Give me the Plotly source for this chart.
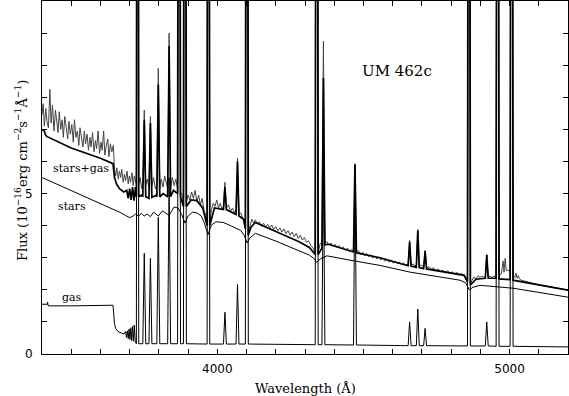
import plotly.graph_objects as go

# spectra of UM 462c: (wavelength [A], flux [1e-16 erg cm-2 s-1 A-1])
observed = [
    (3400, 7.45), (3404, 7.8), (3408, 7.1), (3413, 7.65), (3417, 7.25), (3422, 7.05), (3427, 8.25),
    (3431, 7.2), (3436, 7.75), (3441, 6.95), (3446, 7.6), (3450, 7.35), (3455, 6.9), (3459, 7.55),
    (3464, 7.0), (3469, 7.3), (3473, 6.75), (3478, 7.4), (3483, 7.1), (3488, 6.7), (3492, 7.25),
    (3497, 6.85), (3502, 7.15), (3507, 6.6), (3511, 7.3), (3516, 6.75), (3521, 6.95), (3526, 6.5),
    (3530, 7.05), (3535, 6.7), (3540, 6.45), (3545, 6.95), (3549, 6.55), (3554, 6.85), (3559, 6.35),
    (3564, 6.75), (3568, 6.45), (3573, 6.9), (3578, 6.3), (3583, 6.65), (3587, 6.4), (3592, 6.95),
    (3597, 6.25), (3602, 6.6), (3606, 6.35), (3611, 6.95), (3615, 6.2), (3620, 6.5), (3625, 6.7),
    (3629, 6.15), (3634, 6.55), (3639, 6.3), (3644, 6.5), (3648, 5.75), (3652, 5.55), (3656, 5.8),
    (3661, 5.45), (3665, 5.7), (3669, 5.5), (3673, 5.75), (3678, 5.35), (3682, 5.6), (3686, 5.4),
    (3691, 5.7), (3695, 5.3), (3699, 5.55), (3703, 5.35), (3708, 5.65), (3712, 5.25), (3716, 5.55),
    (3720, 5.35), (3723, 5.3), (3727, 40), (3731, 5.3), (3736, 5.5), (3741, 5.15), (3745, 5.35),
    (3750, 7.6), (3755, 5.25), (3760, 5.45), (3766, 5.2), (3771, 7.4), (3776, 5.25), (3782, 5.5),
    (3788, 5.15), (3793, 5.25), (3798, 8.9), (3803, 5.15), (3808, 5.45), (3814, 5.2), (3820, 5.55),
    (3826, 5.25), (3830, 5.15), (3835, 10.0), (3840, 5.15), (3846, 5.5), (3852, 5.25), (3858, 5.45),
    (3864, 5.15), (3869, 40), (3874, 5.05), (3880, 4.95), (3884, 4.75), (3889, 40), (3894, 4.75),
    (3900, 4.95), (3906, 4.8), (3912, 5.05), (3918, 4.85), (3924, 5.1), (3930, 4.75), (3936, 4.95),
    (3942, 4.65), (3948, 4.85), (3955, 4.45), (3962, 4.3), (3965, 4.15), (3969, 40), (3974, 4.1),
    (3980, 4.5), (3986, 4.7), (3992, 4.6), (3998, 4.8), (4004, 4.55), (4010, 4.7), (4016, 4.5),
    (4021, 4.6), (4026, 5.35), (4031, 4.55), (4038, 4.65), (4045, 4.45), (4052, 4.55), (4058, 4.4),
    (4064, 4.5), (4069, 6.1), (4074, 4.35), (4080, 4.4), (4088, 4.2), (4096, 3.95), (4101, 40),
    (4106, 3.75), (4112, 4.0), (4118, 4.2), (4124, 4.08), (4130, 4.18), (4137, 4.06), (4144, 4.12),
    (4151, 3.98), (4158, 4.08), (4165, 3.96), (4172, 4.04), (4179, 3.92), (4186, 4.02), (4193, 3.88),
    (4200, 3.97), (4207, 3.84), (4214, 3.93), (4221, 3.8), (4228, 3.9), (4235, 3.75), (4242, 3.84),
    (4249, 3.7), (4256, 3.8), (4263, 3.66), (4270, 3.76), (4277, 3.6), (4284, 3.7), (4291, 3.55),
    (4298, 3.63), (4305, 3.48), (4312, 3.53), (4320, 3.38), (4328, 3.3), (4335, 3.15), (4340, 40),
    (4345, 3.15), (4352, 3.45), (4358, 3.4), (4363, 9.75), (4368, 3.45), (4375, 3.5), (4382, 3.4),
    (4389, 3.46), (4396, 3.35), (4403, 3.42), (4410, 3.31), (4417, 3.38), (4424, 3.27), (4431, 3.34),
    (4438, 3.23), (4445, 3.3), (4452, 3.19), (4459, 3.26), (4466, 3.2), (4471, 5.93), (4476, 3.18),
    (4483, 3.22), (4490, 3.11), (4497, 3.17), (4504, 3.07), (4511, 3.13), (4518, 3.03), (4525, 3.09),
    (4532, 2.99), (4539, 3.05), (4546, 2.96), (4553, 3.02), (4560, 2.93), (4567, 2.99), (4574, 2.89),
    (4581, 2.95), (4588, 2.86), (4595, 2.92), (4602, 2.83), (4609, 2.89), (4616, 2.81), (4623, 2.87),
    (4630, 2.78), (4637, 2.84), (4644, 2.77), (4653, 2.8), (4658, 3.54), (4663, 2.75), (4670, 2.81),
    (4676, 2.74), (4681, 2.78), (4686, 3.88), (4691, 2.72), (4698, 2.78), (4706, 2.7), (4711, 3.23),
    (4716, 2.68), (4724, 2.72), (4732, 2.64), (4740, 2.69), (4748, 2.6), (4756, 2.65), (4764, 2.57),
    (4772, 2.61), (4780, 2.54), (4788, 2.59), (4796, 2.52), (4804, 2.56), (4812, 2.5), (4820, 2.54),
    (4828, 2.47), (4836, 2.51), (4845, 2.42), (4852, 2.3), (4856, 2.25), (4861, 40), (4866, 2.2),
    (4872, 2.3), (4878, 2.4), (4885, 2.33), (4892, 2.44), (4899, 2.38), (4906, 2.43), (4912, 2.39),
    (4917, 2.42), (4922, 3.1), (4927, 2.4), (4934, 2.42), (4940, 2.38), (4946, 2.44), (4950, 2.4),
    (4954, 2.45), (4959, 40), (4964, 2.45), (4972, 2.5), (4978, 2.9), (4981, 2.55), (4985, 2.98),
    (4989, 2.6), (4995, 2.62), (5002, 2.55), (5007, 40), (5012, 2.45), (5018, 2.38), (5022, 2.52),
    (5026, 2.36), (5030, 2.45), (5034, 2.34), (5040, 2.3), (5100, 2.15), (5200, 1.99),
]

stars_gas = [
    (3400, 7.0), (3408, 6.95), (3411, 6.85), (3416, 6.78), (3500, 6.42), (3600, 6.1), (3643, 5.93),
    (3648, 5.5), (3655, 5.3), (3665, 5.15), (3680, 5.05), (3690, 5.1), (3695, 4.85), (3700, 5.15),
    (3705, 4.8), (3710, 5.2), (3715, 4.78), (3720, 5.2), (3723, 4.9), (3727, 40), (3731, 4.9),
    (3740, 4.95), (3745, 4.9), (3750, 7.3), (3755, 4.9), (3766, 4.85), (3771, 7.2), (3776, 4.88),
    (3790, 4.95), (3793, 4.9), (3798, 8.4), (3803, 4.9), (3815, 5.0), (3830, 4.9), (3835, 9.6),
    (3840, 4.9), (3850, 5.1), (3864, 5.0), (3869, 40), (3874, 4.9), (3884, 4.6), (3889, 40),
    (3894, 4.6), (3910, 4.8), (3930, 4.78), (3950, 4.55), (3965, 4.0), (3969, 40), (3974, 4.0),
    (3990, 4.55), (4021, 4.5), (4026, 5.2), (4031, 4.5), (4050, 4.42), (4064, 4.35), (4069, 6.0),
    (4074, 4.3), (4090, 4.2), (4096, 3.9), (4101, 40), (4106, 3.7), (4115, 3.95), (4130, 4.1),
    (4200, 3.82), (4280, 3.5), (4315, 3.32), (4335, 3.1), (4340, 40), (4345, 3.1), (4358, 3.3),
    (4363, 8.6), (4368, 3.4), (4380, 3.42), (4466, 3.18), (4471, 5.9), (4476, 3.15), (4557, 3.0),
    (4653, 2.75), (4658, 3.5), (4663, 2.74), (4681, 2.7), (4686, 3.85), (4691, 2.69), (4706, 2.66),
    (4711, 3.2), (4716, 2.65), (4800, 2.52), (4845, 2.45), (4856, 2.25), (4861, 40), (4866, 2.15),
    (4885, 2.33), (4917, 2.36), (4922, 3.08), (4927, 2.36), (4954, 2.36), (4959, 40), (4964, 2.34),
    (5002, 2.32), (5007, 40), (5012, 2.3), (5100, 2.16), (5200, 1.99),
]

stars = [
    (3400, 5.5), (3450, 5.3), (3500, 5.1), (3550, 4.9), (3600, 4.7), (3640, 4.54), (3655, 4.47),
    (3670, 4.4), (3685, 4.32), (3700, 4.25), (3712, 4.3), (3720, 4.36), (3730, 4.3), (3740, 4.38),
    (3750, 4.3), (3760, 4.36), (3771, 4.28), (3782, 4.42), (3798, 4.3), (3812, 4.46), (3835, 4.32),
    (3852, 4.58), (3865, 4.55), (3878, 4.35), (3889, 4.08), (3900, 4.3), (3915, 4.42), (3930, 4.4),
    (3945, 4.3), (3955, 4.1), (3968, 3.72), (3980, 4.02), (3995, 4.12), (4020, 4.1), (4050, 3.98),
    (4080, 3.85), (4092, 3.7), (4102, 3.46), (4112, 3.62), (4130, 3.76), (4200, 3.52), (4280, 3.22),
    (4315, 3.08), (4330, 2.98), (4340, 2.86), (4352, 2.96), (4375, 3.06), (4450, 2.93), (4557, 2.76),
    (4660, 2.55), (4760, 2.4), (4830, 2.3), (4850, 2.22), (4862, 2.0), (4875, 2.08), (4899, 2.14),
    (4950, 2.1), (5012, 2.05), (5100, 1.92), (5200, 1.77),
]

gas = [
    (3400, 1.55), (3418, 1.55), (3419, 1.62), (3421, 1.5), (3500, 1.5), (3600, 1.51), (3643, 1.52),
    (3648, 0.95), (3652, 0.8), (3660, 0.7), (3670, 0.66), (3680, 0.62), (3686, 0.7), (3689, 0.52),
    (3692, 0.72), (3695, 0.48), (3698, 0.78), (3701, 0.45), (3704, 0.82), (3707, 0.42), (3710, 0.86),
    (3713, 0.4), (3716, 0.9), (3719, 0.38), (3723, 0.32), (3727, 40), (3731, 0.32), (3745, 0.32),
    (3750, 3.14), (3755, 0.32), (3766, 0.32), (3771, 2.98), (3776, 0.32), (3793, 0.32), (3798, 4.26),
    (3803, 0.32), (3830, 0.32), (3835, 5.5), (3840, 0.32), (3864, 0.32), (3869, 40), (3874, 0.32),
    (3884, 0.32), (3889, 40), (3894, 0.32), (3965, 0.31), (3969, 40), (3974, 0.31), (4021, 0.31),
    (4026, 1.3), (4031, 0.31), (4064, 0.31), (4069, 2.17), (4074, 0.31), (4096, 0.31), (4101, 40),
    (4106, 0.31), (4335, 0.29), (4340, 40), (4345, 0.29), (4358, 0.29), (4363, 6.2), (4368, 0.29),
    (4466, 0.28), (4471, 5.9), (4476, 0.28), (4653, 0.26), (4658, 1.0), (4663, 0.26), (4681, 0.26),
    (4686, 1.4), (4691, 0.26), (4706, 0.26), (4711, 0.8), (4716, 0.26), (4856, 0.25), (4861, 40),
    (4866, 0.25), (4917, 0.25), (4922, 1.0), (4927, 0.25), (4954, 0.24), (4959, 40), (4964, 0.24),
    (5002, 0.24), (5007, 40), (5012, 0.24), (5200, 0.22),
]

x_tick_vals = list(range(3400, 5201, 100))
x_tick_text = ["", "", "", "", "", "", "4000", "", "", "", "", "", "", "", "", "", "5000", "", ""]
y_tick_vals = list(range(0, 12))
y_tick_text = ["0", "", "", "", "", "5", "", "", "", "", "", ""]

# curve labels: (text, wavelength, flux)
curve_labels = [("stars+gas", 3533, 5.78), ("stars", 3503, 4.61), ("gas", 3504, 1.76)]
object_name = "UM 462c"

serif = "DejaVu Serif"

fig = go.Figure()


def add_curve(points, color, width):
    fig.add_trace(go.Scatter(
        x=[p[0] for p in points], y=[p[1] for p in points],
        mode="lines", line=dict(color=color, width=width), showlegend=False))


add_curve(gas, "black", 1)
add_curve(stars, "black", 1)
add_curve(observed, "#444444", 1)
add_curve(stars_gas, "black", 1.7)

for text, wl, fl in curve_labels:
    fig.add_annotation(x=wl, y=fl, text=text, showarrow=False,
                       font=dict(family=serif, size=11, color="black"))

fig.add_annotation(x=4615, y=8.82, text=object_name, showarrow=False,
                   font=dict(family=serif, size=15, color="black"))

# axis titles placed as annotations so the plot box keeps its position
fig.add_annotation(xref="paper", yref="paper", x=-0.058, y=0.52, textangle=-90,
                   text="Flux (10<sup>\u221216</sup>erg cm<sup>\u22122</sup>s<sup>\u22121</sup>\u00c5<sup>\u22121</sup>)",
                   showarrow=False, font=dict(family=serif, size=13, color="black"))
fig.add_annotation(xref="paper", yref="paper", x=0.5, y=-0.098, yanchor="middle",
                   text="Wavelength (\u00c5)", showarrow=False,
                   font=dict(family=serif, size=13, color="black"))

axis_style = dict(showline=True, linecolor="black", linewidth=1, mirror="allticks",
                  ticks="inside", ticklen=5, tickcolor="black", tickwidth=1,
                  showgrid=False, zeroline=False, automargin=False)

fig.update_xaxes(range=[3400, 5200], tickmode="array", tickvals=x_tick_vals, ticktext=x_tick_text,
                 tickfont=dict(family="DejaVu Sans", size=12, color="black"), ticklabelstandoff=4,
                 **axis_style)
fig.update_yaxes(range=[0, 11], tickmode="array", tickvals=y_tick_vals, ticktext=y_tick_text,
                 tickfont=dict(family="DejaVu Sans", size=12, color="black"), ticklabelstandoff=6,
                 **axis_style)

fig.update_layout(width=569, height=396, margin=dict(l=42, r=1, t=1, b=42),
                  paper_bgcolor="white", plot_bgcolor="white")

# drop the page's default body margin so the figure sits at the window's corner
fig.write_html("out.html", config={"displayModeBar": False},
               post_script="document.body.style.margin = '0';")
